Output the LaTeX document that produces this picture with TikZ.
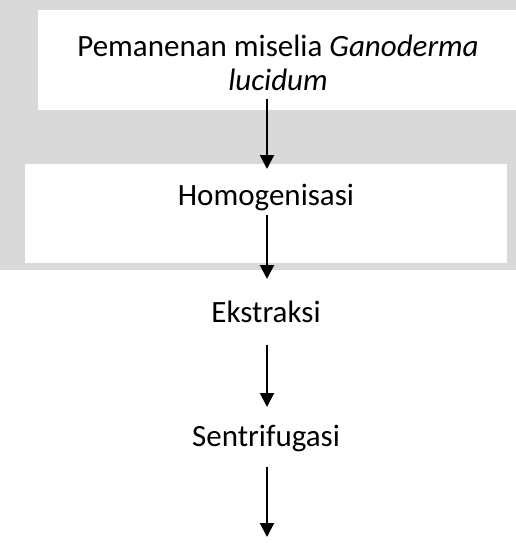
\documentclass[tikz,border=0pt]{standalone}
\usepackage{fontspec}
\setmainfont{Carlito}
\usetikzlibrary{arrows.meta,positioning}
\definecolor{bggray}{HTML}{D9D9D9}
\begin{document}
\begin{tikzpicture}[x=1pt,y=-1pt]
	\tikzset{
		stepbox/.style={fill=white, inner sep=0pt, anchor=north west},
		steptext/.style={font=\fontsize{31}{34}\selectfont, align=center, inner sep=0pt},
		flow/.style={line width=2pt, -{Triangle[width=14pt,length=14pt]}}
	}
	% background
	\useasboundingbox (0,0) rectangle (516,551);
	\fill [white] (0,0) rectangle (516,551);
	\fill [bggray] (0,0) rectangle (516,270);
	% boxes
	\node [stepbox, minimum width=478pt, minimum height=100pt] (box1) at (38,10) {};
	\node [stepbox, minimum width=482pt, minimum height=99pt] (box2) at (25,164) {};
	\node [stepbox, minimum width=482pt, minimum height=98pt] (box3) at (25,279) {};
	\node [stepbox, minimum width=482pt, minimum height=96pt] (box4) at (25,407) {};
	% texts
	\node [steptext] (t1) at (278,63) {Pemanenan miselia \textit{Ganoderma}\\\textit{lucidum}};
	\node [steptext] (t2) at (266,197) {Homogenisasi};
	\node [steptext] (t3) at (266,312) {Ekstraksi};
	\node [steptext] (t4) at (266,438) {Sentrifugasi};
	% arrows
	\coordinate (a1) at (267,99);
	\coordinate (a2) at (267,215);
	\coordinate (a3) at (267,345);
	\coordinate (a4) at (267,467);
	\coordinate (e4) at (267,537);
	\draw [flow] (a1) -- ([yshift=-5pt]box2.north -| a1);
	\draw [flow] (a2) -- (box3.north -| a2);
	\draw [flow] (a3) -- (box4.north -| a3);
	\draw [flow] (a4) -- (e4);
\end{tikzpicture}
\end{document}
